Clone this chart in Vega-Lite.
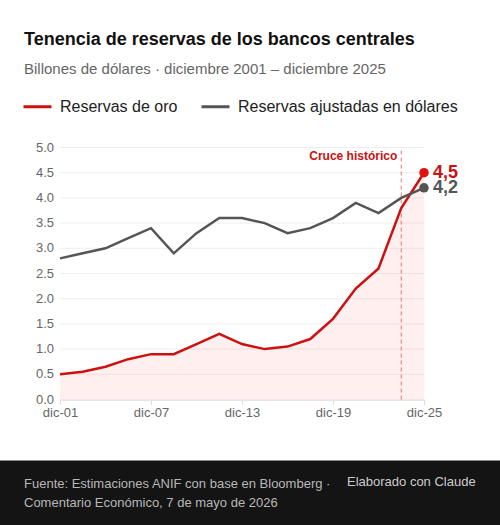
{
  "$schema": "https://vega.github.io/schema/vega-lite/v6.json",
  "padding": 0,
  "background": "white",
  "bounds": "flush",
  "spacing": 60.5,
  "datasets": {
    "reservas": [
      {"anio": 2001, "valor": 0.5, "serie": "Reservas de oro"},
      {"anio": 2002.5, "valor": 0.55, "serie": "Reservas de oro"},
      {"anio": 2004, "valor": 0.65, "serie": "Reservas de oro"},
      {"anio": 2005.5, "valor": 0.8, "serie": "Reservas de oro"},
      {"anio": 2007, "valor": 0.9, "serie": "Reservas de oro"},
      {"anio": 2008.5, "valor": 0.9, "serie": "Reservas de oro"},
      {"anio": 2010, "valor": 1.1, "serie": "Reservas de oro"},
      {"anio": 2011.5, "valor": 1.3, "serie": "Reservas de oro"},
      {"anio": 2013, "valor": 1.1, "serie": "Reservas de oro"},
      {"anio": 2014.5, "valor": 1.0, "serie": "Reservas de oro"},
      {"anio": 2016, "valor": 1.05, "serie": "Reservas de oro"},
      {"anio": 2017.5, "valor": 1.2, "serie": "Reservas de oro"},
      {"anio": 2019, "valor": 1.6, "serie": "Reservas de oro"},
      {"anio": 2020.5, "valor": 2.2, "serie": "Reservas de oro"},
      {"anio": 2022, "valor": 2.6, "serie": "Reservas de oro"},
      {"anio": 2023.5, "valor": 3.8, "serie": "Reservas de oro"},
      {"anio": 2025, "valor": 4.5, "serie": "Reservas de oro", "etiqueta": "4,5"},
      {"anio": 2001, "valor": 2.8, "serie": "Reservas ajustadas en dólares"},
      {"anio": 2002.5, "valor": 2.9, "serie": "Reservas ajustadas en dólares"},
      {"anio": 2004, "valor": 3.0, "serie": "Reservas ajustadas en dólares"},
      {"anio": 2005.5, "valor": 3.2, "serie": "Reservas ajustadas en dólares"},
      {"anio": 2007, "valor": 3.4, "serie": "Reservas ajustadas en dólares"},
      {"anio": 2008.5, "valor": 2.9, "serie": "Reservas ajustadas en dólares"},
      {"anio": 2010, "valor": 3.3, "serie": "Reservas ajustadas en dólares"},
      {"anio": 2011.5, "valor": 3.6, "serie": "Reservas ajustadas en dólares"},
      {"anio": 2013, "valor": 3.6, "serie": "Reservas ajustadas en dólares"},
      {"anio": 2014.5, "valor": 3.5, "serie": "Reservas ajustadas en dólares"},
      {"anio": 2016, "valor": 3.3, "serie": "Reservas ajustadas en dólares"},
      {"anio": 2017.5, "valor": 3.4, "serie": "Reservas ajustadas en dólares"},
      {"anio": 2019, "valor": 3.6, "serie": "Reservas ajustadas en dólares"},
      {"anio": 2020.5, "valor": 3.9, "serie": "Reservas ajustadas en dólares"},
      {"anio": 2022, "valor": 3.7, "serie": "Reservas ajustadas en dólares"},
      {"anio": 2023.5, "valor": 4.0, "serie": "Reservas ajustadas en dólares"},
      {"anio": 2025, "valor": 4.2, "serie": "Reservas ajustadas en dólares", "etiqueta": "4,2"}
    ],
    "rejilla": [
      {"valor": 0}, {"valor": 0.5}, {"valor": 1}, {"valor": 1.5}, {"valor": 2}, {"valor": 2.5},
      {"valor": 3}, {"valor": 3.5}, {"valor": 4}, {"valor": 4.5}, {"valor": 5}
    ],
    "pie": [
      {"bloque": "fuente", "fila": "1", "texto": "Fuente: Estimaciones ANIF con base en Bloomberg ·"},
      {"bloque": "fuente", "fila": "2", "texto": "Comentario Económico, 7 de mayo de 2026"},
      {"bloque": "credito", "fila": "1", "texto": "Elaborado con Claude"}
    ]
  },
  "vconcat": [
    {
      "width": 424,
      "height": 399.5,
      "title": {
        "text": "Tenencia de reservas de los bancos centrales",
        "subtitle": "Billones de dólares · diciembre 2001 – diciembre 2025",
        "anchor": "start",
        "frame": "group",
        "dx": 24,
        "dy": 81,
        "fontSize": 18,
        "fontWeight": "bold",
        "color": "#111111",
        "subtitleFontSize": 15,
        "subtitleColor": "#666666",
        "subtitlePadding": 13
      },
      "layer": [
        {
          "data": {"name": "rejilla"},
          "mark": {"type": "rule", "color": "#eeeeee", "strokeWidth": 1},
          "encoding": {
            "y": {
              "field": "valor",
              "type": "quantitative",
              "scale": {"domain": [0, 5], "range": [399.5, 147.5], "nice": false},
              "axis": null
            },
            "x": {"datum": 2001, "type": "quantitative"},
            "x2": {"datum": 2025}
          }
        },
        {
          "data": {"name": "rejilla"},
          "mark": {"type": "text", "align": "right", "baseline": "middle", "dx": -6, "fontSize": 13, "color": "#666666"},
          "encoding": {
            "y": {"field": "valor", "type": "quantitative", "axis": null},
            "x": {"datum": 2001, "type": "quantitative"},
            "text": {"field": "valor", "type": "quantitative", "format": ".1f"}
          }
        },
        {
          "data": {"name": "reservas"},
          "transform": [{"filter": "datum.serie == 'Reservas de oro'"}],
          "mark": {"type": "area", "color": "#ff2222", "opacity": 0.07},
          "encoding": {
            "x": {"field": "anio", "type": "quantitative"},
            "y": {"field": "valor", "type": "quantitative", "stack": null, "axis": null}
          }
        },
        {
          "data": {"values": [{"anio": 2023.5, "desde": 0, "hasta": 5}]},
          "mark": {"type": "rule", "color": "#e02020", "opacity": 0.6, "strokeWidth": 1, "strokeDash": [4, 3]},
          "encoding": {
            "x": {"field": "anio", "type": "quantitative"},
            "y": {"field": "desde", "type": "quantitative", "axis": null},
            "y2": {"field": "hasta"}
          }
        },
        {
          "data": {"values": [{"anio": 2023.5, "valor": 4.84, "texto": "Cruce histórico"}]},
          "mark": {"type": "text", "align": "right", "baseline": "middle", "dx": -4, "fontSize": 12, "fontWeight": "bold", "color": "#cc1111"},
          "encoding": {
            "x": {"field": "anio", "type": "quantitative"},
            "y": {"field": "valor", "type": "quantitative", "axis": null},
            "text": {"field": "texto"}
          }
        },
        {
          "data": {"name": "reservas"},
          "mark": {"type": "line", "strokeWidth": 2.5},
          "encoding": {
            "x": {
              "field": "anio",
              "type": "quantitative",
              "scale": {"domain": [2001, 2025], "range": [60, 424], "nice": false, "zero": false},
              "axis": {
                "title": null,
                "values": [2001, 2007, 2013, 2019, 2025],
                "labelExpr": "'dic-' + slice(toString(datum.value), 2)",
                "grid": false,
                "domainColor": "#dddddd",
                "domainWidth": 1.5,
                "tickColor": "#dddddd",
                "tickSize": 5,
                "tickWidth": 1,
                "labelColor": "#666666",
                "labelFontSize": 13,
                "labelPadding": 2,
                "labelFlush": false
              }
            },
            "y": {"field": "valor", "type": "quantitative", "axis": null},
            "color": {
              "field": "serie",
              "type": "nominal",
              "scale": {
                "domain": ["Reservas de oro", "Reservas ajustadas en dólares"],
                "range": ["#cc1111", "#555555"]
              },
              "legend": {
                "title": null,
                "orient": "none",
                "legendX": 22,
                "legendY": 91,
                "direction": "horizontal",
                "columns": 2,
                "columnPadding": 17,
                "symbolType": "stroke",
                "symbolSize": 784,
                "symbolStrokeWidth": 3,
                "labelFontSize": 16,
                "labelColor": "#222222",
                "labelOffset": 7,
                "labelLimit": 300
              }
            }
          }
        },
        {
          "data": {"name": "reservas"},
          "transform": [{"filter": "datum.anio == 2025 && datum.serie != 'Reservas de oro'"}],
          "mark": {"type": "circle", "size": 90, "opacity": 1},
          "encoding": {
            "x": {"field": "anio", "type": "quantitative"},
            "y": {"field": "valor", "type": "quantitative", "axis": null},
            "color": {"field": "serie", "type": "nominal", "legend": null}
          }
        },
        {
          "data": {"name": "reservas"},
          "transform": [{"filter": "datum.anio == 2025 && datum.serie == 'Reservas de oro'"}],
          "mark": {"type": "circle", "size": 90, "opacity": 1, "color": "#e01010"},
          "encoding": {
            "x": {"field": "anio", "type": "quantitative"},
            "y": {"field": "valor", "type": "quantitative", "axis": null}
          }
        },
        {
          "data": {"name": "reservas"},
          "transform": [{"filter": "datum.anio == 2025"}],
          "mark": {"type": "text", "align": "left", "baseline": "middle", "dx": 9, "fontSize": 18, "fontWeight": "bold"},
          "encoding": {
            "x": {"field": "anio", "type": "quantitative"},
            "y": {"field": "valor", "type": "quantitative", "axis": null},
            "text": {"field": "etiqueta"},
            "color": {"field": "serie", "type": "nominal", "legend": null}
          }
        }
      ]
    },
    {
      "width": 500,
      "height": 65,
      "view": {"fill": "#141414", "stroke": null},
      "data": {"name": "pie"},
      "encoding": {
        "x": {
          "field": "bloque",
          "type": "nominal",
          "axis": null,
          "scale": {"type": "point", "padding": 0, "domain": ["fuente", "credito"], "range": [24, 347]}
        },
        "y": {
          "field": "fila",
          "type": "nominal",
          "axis": null,
          "scale": {"type": "point", "padding": 0, "domain": ["1", "2"], "range": [23, 42]}
        },
        "text": {"field": "texto"}
      },
      "layer": [
        {
          "transform": [{"filter": "datum.bloque == 'fuente'"}],
          "mark": {"type": "text", "align": "left", "baseline": "middle", "fontSize": 13, "color": "#b8b8b8"}
        },
        {
          "transform": [{"filter": "datum.bloque == 'credito'"}],
          "mark": {"type": "text", "align": "left", "baseline": "middle", "dy": -2, "fontSize": 13, "color": "#cccccc"}
        }
      ]
    }
  ],
  "config": {
    "font": "Liberation Sans",
    "view": {"stroke": null}
  }
}
